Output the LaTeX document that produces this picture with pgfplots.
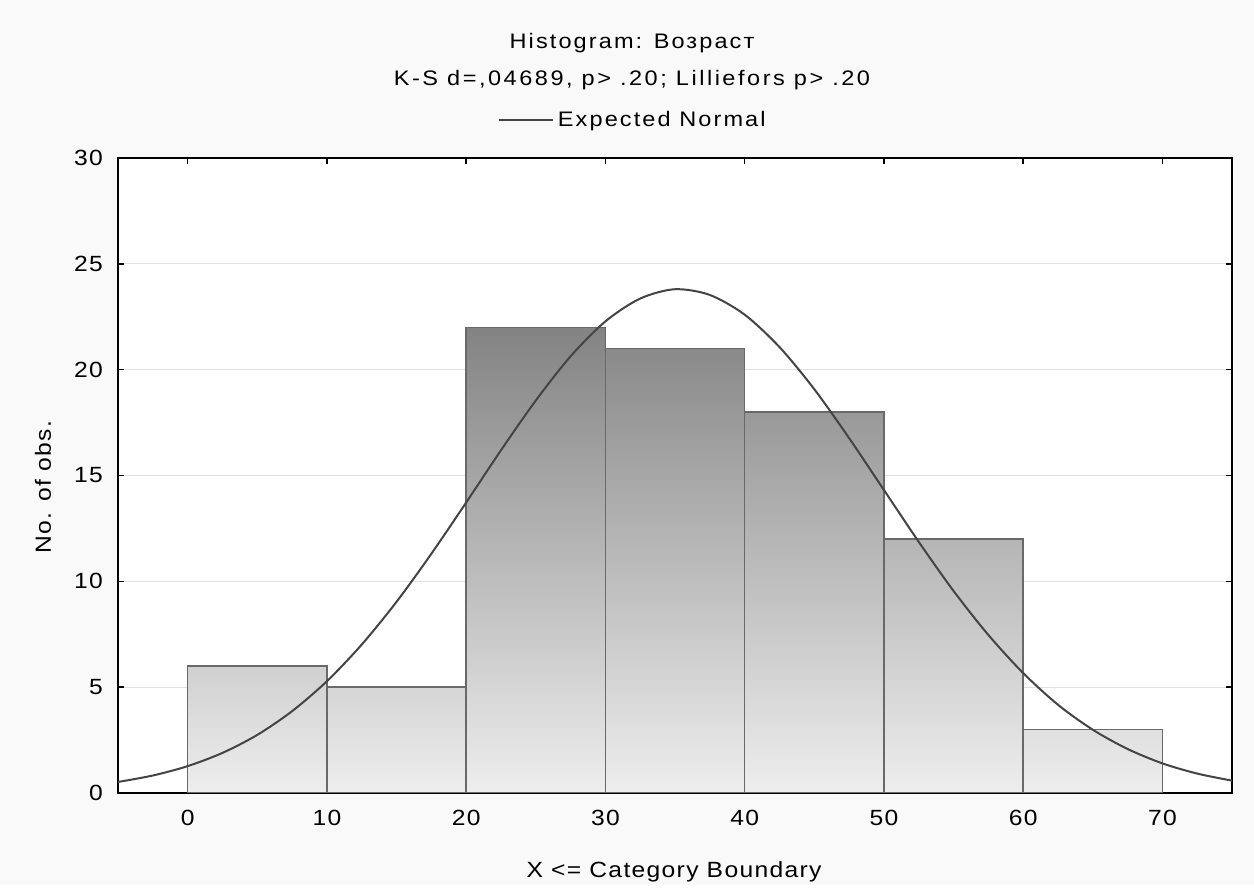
\documentclass[border=0pt]{standalone}
\usepackage{fontspec}
\setmainfont{Liberation Sans}[FakeStretch=1.12, LetterSpace=6]
\newfontfamily\titlefont{Liberation Sans}[FakeStretch=1.12, LetterSpace=10]
\newfontfamily\titlefontb{Liberation Sans}[FakeStretch=1.12, LetterSpace=12]
\usepackage{pgfplots}
\pgfplotsset{compat=1.18}
\definecolor{bgout}{RGB}{249,249,249}
\definecolor{barline}{RGB}{105,105,105}
\definecolor{curvec}{RGB}{68,68,68}
\definecolor{gridc}{RGB}{224,224,224}
\definecolor{bb}{RGB}{238,238,238}
\definecolor{tA}{RGB}{208,208,208}
\definecolor{tB}{RGB}{213,213,213}
\definecolor{tC}{RGB}{131,131,131}
\definecolor{tD}{RGB}{138,138,138}
\definecolor{tE}{RGB}{153,153,153}
\definecolor{tF}{RGB}{181,181,181}
\definecolor{tG}{RGB}{223,223,223}
\begin{document}
\begin{tikzpicture}
\fill[bgout] (-59pt,-46pt) rectangle (568pt,396.5pt);
\begin{axis}[
  at={(0,0)}, anchor=south west,
  scale only axis, width=557pt, height=317.5pt,
  xmin=-5, xmax=75, ymin=0, ymax=30,
  xtick={0,10,...,70}, ytick={0,5,...,30},
  tick align=inside, major tick length=3pt,
  axis line style={line width=1pt, black},
  tick style={black, line width=0.8pt},
  ymajorgrids, grid style={gridc, line width=0.6pt},
  axis background/.style={fill=white},
  tick label style={font=\fontsize{11}{13}\selectfont},
  /pgf/number format/assume math mode=true,
  xticklabel style={yshift=-5pt},
  yticklabel style={xshift=-4pt},
  legend style={draw=none, fill=none, at={(0.463,1.0598)}, anchor=center,
    font=\titlefont\fontsize{10.5}{12}\selectfont},
  legend image code/.code={\draw[#1] (0cm,0cm) -- (0.82cm,0cm); \path (0.82cm,0cm) -- (0.95cm,0cm);},
]
\addplot[ybar interval, draw=barline, line width=0.7pt, top color=tA, bottom color=bb, forget plot] coordinates {(0,6) (10,0)};
\addplot[ybar interval, draw=barline, line width=0.7pt, top color=tB, bottom color=bb, forget plot] coordinates {(10,5) (20,0)};
\addplot[ybar interval, draw=barline, line width=0.7pt, top color=tC, bottom color=bb, forget plot] coordinates {(20,22) (30,0)};
\addplot[ybar interval, draw=barline, line width=0.7pt, top color=tD, bottom color=bb, forget plot] coordinates {(30,21) (40,0)};
\addplot[ybar interval, draw=barline, line width=0.7pt, top color=tE, bottom color=bb, forget plot] coordinates {(40,18) (50,0)};
\addplot[ybar interval, draw=barline, line width=0.7pt, top color=tF, bottom color=bb, forget plot] coordinates {(50,12) (60,0)};
\addplot[ybar interval, draw=barline, line width=0.7pt, top color=tG, bottom color=bb, forget plot] coordinates {(60,3) (70,0)};
\addplot[smooth, curvec, line width=1pt, mark=none] coordinates {
(-5,0.522) (-2.5,0.826) (0,1.269) (2.5,1.894) (5,2.744) (7.5,3.865)
(10,5.28) (12.5,7.01) (15,9.03) (17.5,11.30) (20,13.72) (22.5,16.19)
(25,18.54) (27.5,20.63) (30,22.28) (32.5,23.36) (35,23.80) (37.5,23.53)
(40,22.60) (42.5,21.07) (45,19.08) (47.5,16.77) (50,14.32) (52.5,11.87)
(55,9.55) (57.5,7.47) (60,5.67) (62.5,4.17) (65,2.99) (67.5,2.08)
(70,1.40) (72.5,0.918) (75,0.584)};
\addlegendentry{Expected Normal}
\end{axis}
\node[font=\titlefont\fontsize{10.5}{12}\selectfont] at (257pt,374.75pt) {Histogram: Возраст};
\node[font=\titlefontb\fontsize{10.5}{12}\selectfont] at (257pt,356.5pt) {K-S d=,04689, p> .20; Lilliefors p> .20};
\node[font=\fontsize{11}{13}\selectfont] at (278pt,-39.5pt) {X <= Category Boundary};
\node[font=\fontsize{11}{13}\selectfont, rotate=90] at (-37.5pt,153pt) {No. of obs.};
\end{tikzpicture}
\end{document}
